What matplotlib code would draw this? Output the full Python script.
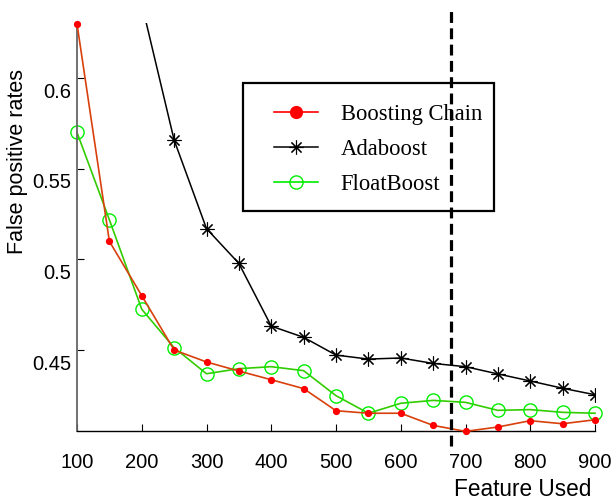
import numpy as np
import matplotlib.pyplot as plt
import matplotlib.transforms as mtransforms
from matplotlib.patches import Rectangle

# values
features = [100, 150, 200, 250, 300, 350, 400, 450, 500, 550, 600, 650, 700, 750, 800, 850, 900]
boosting_chain = [0.630, 0.510, 0.480, 0.450, 0.4434, 0.4384, 0.4336, 0.4287, 0.4165, 0.4151,
                  0.4151, 0.4084, 0.4051, 0.4075, 0.4110, 0.4093, 0.4115]
float_boost = [0.5701, 0.5219, 0.4725, 0.4513, 0.4369, 0.4397, 0.4408, 0.4386, 0.4248, 0.4151,
               0.4206, 0.4222, 0.4211, 0.4167, 0.4171, 0.4156, 0.4151]
ada_features = [200, 250, 300, 350, 400, 450, 500, 550, 600, 650, 700, 750, 800, 850, 900]
adaboost = [0.641, 0.5659, 0.5170, 0.4978, 0.4632, 0.4570, 0.4472, 0.4450, 0.4456, 0.4426,
            0.4408, 0.4368, 0.4329, 0.4289, 0.4253]
x_ticks = [100, 200, 300, 400, 500, 600, 700, 800, 900]
y_ticks = [0.45, 0.5, 0.55, 0.6]
y_tick_labels = ["0.45", "0.5", "0.55", "0.6"]
cut_x = 677.6

fig = plt.figure(figsize=(6.15, 4.99), dpi=100)
ax = fig.add_axes([77 / 615, 1 - 431 / 499, 518 / 615, 408 / 499])

ax.plot(features, boosting_chain, color="#d8400c", lw=1.2, marker="o", ms=4.2,
        mfc="red", mec="red", label="Boosting Chain", clip_on=False, zorder=3)
ax.plot(ada_features, adaboost, color="black", lw=1.1, marker=(8, 2, 0), ms=10,
        mew=0.8, label="Adaboost", zorder=2)
ax.plot(features, float_boost, color="#33cc00", lw=1.2, marker="o", ms=9.5,
        mfc="none", mec="#00ee00", mew=1.0, label="FloatBoost", clip_on=False, zorder=2)

ax.set_xlim(100, 900)
ax.set_ylim(0.4053, 0.6305)

# dashed separator running past the axes
trans = mtransforms.blended_transform_factory(ax.transData, ax.transAxes)
ax.plot([cut_x, cut_x], [-0.037, 1.034], transform=trans, color="black", lw=2.3,
        linestyle=(0, (3.4, 1.7)), clip_on=False, zorder=10)

for s in ["top", "right"]:
    ax.spines[s].set_visible(False)
ax.spines["left"].set_color("#666666")
ax.spines["left"].set_linewidth(1.3)
ax.spines["bottom"].set_linewidth(1.0)

ax.set_xticks(x_ticks)
ax.set_yticks(y_ticks)
ax.set_yticklabels(y_tick_labels)
ax.tick_params(direction="in", length=5, width=0.8, labelsize=14.5)
ax.tick_params(axis="x", pad=16)
ax.tick_params(axis="y", pad=4)
for lab in ax.get_xticklabels() + ax.get_yticklabels():
    lab.set_family(["Liberation Sans", "DejaVu Sans"])
offset = mtransforms.ScaledTranslation(0, -12 / 100, fig.dpi_scale_trans)
for lab in ax.get_yticklabels():
    lab.set_transform(lab.get_transform() + offset)

fig.text(523 / 615, 1 - 489 / 499, "Feature Used", ha="center", va="center",
         fontsize=16.3, family=["Liberation Sans", "DejaVu Sans"])
fig.text(18 / 615, 1 - 162 / 499, "False positive rates", ha="center", va="center",
         rotation=90, fontsize=15.5, family=["Liberation Sans", "DejaVu Sans"])

# legend box drawn on its own, entries placed inside it
box = Rectangle((243 / 615, 1 - 211 / 499), 251 / 615, 128 / 499, transform=fig.transFigure,
                facecolor="white", edgecolor="black", lw=1.6, zorder=5)
ax.add_artist(box)
box.set_clip_on(False)
leg = ax.legend(loc="upper left", bbox_to_anchor=((274 - 77) / 518, (431 - 104) / 408),
                borderaxespad=0, frameon=False,
                prop={"family": ["Liberation Serif", "DejaVu Serif"], "size": 16.3},
                handlelength=1.95, handletextpad=1.0, borderpad=0, labelspacing=0.62)
leg.set_zorder(6)
leg.legend_handles[0].set_markersize(8.5)
leg.legend_handles[0].set_color("red")
leg.legend_handles[2].set_color("#00ee00")
leg.legend_handles[2].set_markerfacecolor("none")

fig.savefig("out.png", dpi=100)
